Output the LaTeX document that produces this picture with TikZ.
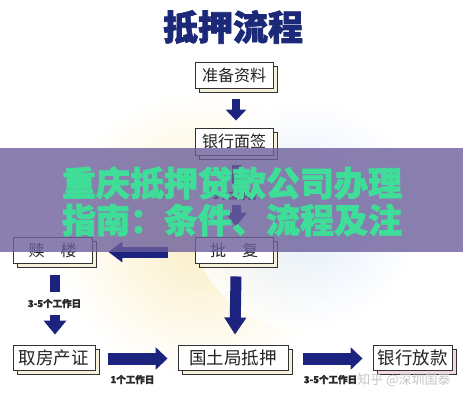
\documentclass[tikz,border=0pt]{standalone}
\usepackage{fontspec}
\usetikzlibrary{arrows.meta,shadows,calc}
\newfontfamily\cjk{Noto Sans CJK SC}[BoldFeatures={FakeBold=2}]
\newfontfamily\cjkn{Noto Sans CJK SC}
\definecolor{navy}{RGB}{27,35,126}
\definecolor{titlec}{RGB}{28,40,120}
\definecolor{boxline}{RGB}{50,50,50}
\definecolor{boxtext}{RGB}{34,34,34}
\definecolor{shadowfill}{RGB}{245,241,218}
\definecolor{pinkshadow}{RGB}{240,218,222}
\definecolor{glowy}{RGB}{251,238,196}
\definecolor{glowb}{RGB}{218,233,250}
\definecolor{bannerc}{RGB}{109,96,156}
\definecolor{bannertext}{RGB}{62,222,152}
\definecolor{labelc}{RGB}{40,40,40}
\tikzset{
  box/.style={draw=boxline, line width=0.9pt, fill=white, minimum width=78pt,
    minimum height=26pt, inner sep=0pt, text=boxtext,
    font=\cjkn\fontsize{16}{16}\selectfont,
    copy shadow={shadow xshift=4pt, shadow yshift=-4pt, fill=shadowfill, draw=boxline, line width=0.9pt}},
  bigbox/.style={box, minimum height=25pt, font=\cjkn\fontsize{17.5}{17.5}\selectfont},
  shaft/.style={draw=navy, line width=#1},
  barrow/.style={draw=navy, fill=navy, line width=#1},
  lbl/.style={text=labelc, font=\cjk\bfseries\fontsize{9.5}{9.5}\selectfont, inner sep=0pt},
}
\begin{document}
\begin{tikzpicture}[x=1pt,y=-1pt]
\useasboundingbox (0,0) rectangle (463,400);
\fill[white] (0,0) rectangle (463,400);
% background glow
\shade[inner color=glowy, outer color=white] (200,235) circle (145);
\shade[inner color=glowb, outer color=white, opacity=0.75] (305,215) circle (115);

% title
\node[text=titlec, font=\cjk\bfseries\fontsize{35}{35}\selectfont, inner sep=0pt] (title) at (233,27) {抵押流程};

% boxes
\node[box] (zbzl) at (234,75) {准备资料};
\node[box, minimum height=27pt] (yhmq) at (234,141.5) {银行面签};
\node[box] (pf) at (234,250) {批\quad 复};
\node[box, minimum width=79pt] (sl) at (52.5,250) {赎\quad 楼};
\node[bigbox, minimum width=82pt] (qfcz) at (54,357.5) {取房产证};
\node[bigbox, minimum width=110pt] (gtj) at (233,357.5) {国土局抵押};
\node[bigbox, minimum width=79pt, copy shadow={shadow xshift=4pt, shadow yshift=-4pt, fill=pinkshadow, draw=boxline, line width=0.9pt}] (yhfk) at (412.5,357.5) {银行放款};

% arrows
\draw[barrow=8pt, -{Triangle[width=20pt,length=11pt]}] ($(zbzl.south)+(2,11)$) -- ($(yhmq.north)+(2,-7)$);

\draw[shaft=9pt] ($(yhmq.south)+(2,10)$) -- ($(yhmq.south)+(2,30)$) coordinate (m1);
\node[lbl] (l0) at ($(yhmq.south)+(1,40)$) {5个工作日};
\draw[barrow=9pt, -{Triangle[width=21pt,length=14pt]}] ($(pf.north)+(2,-32)$) -- ($(pf.north)+(2,-10)$);

\draw[barrow=11pt, -{Triangle[width=21pt,length=17pt]}] ($(pf.south)+(2,13)$) -- ($(gtj.north)+(2,-10)$);

\draw[barrow=11pt, -{Triangle[width=20pt,length=14pt]}] ($(pf.west)+(-27,2)$) -- ($(sl.east)+(16,2)$);

\draw[shaft=10pt] ($(sl.south)+(2,12)$) -- ($(sl.south)+(2,29)$);
\node[lbl] (l1) at ($(sl.south)+(2,40)$) {3-5个工作日};
\draw[barrow=10pt, -{Triangle[width=22pt,length=14pt]}] ($(qfcz.north)+(1,-30)$) -- ($(qfcz.north)+(1,-10)$);

\draw[barrow=12pt, -{Triangle[width=22pt,length=12pt]}] ($(qfcz.east)+(13,1)$) -- ($(gtj.west)+(-10,1)$);
\node[lbl] (l2) at ($(qfcz.east)+(37,22)$) {1个工作日};

\draw[barrow=12pt, -{Triangle[width=22pt,length=12pt]}] ($(gtj.east)+(15,1)$) -- ($(yhfk.west)+(-10,1)$);
\node[lbl] (l3) at ($(gtj.east)+(42,22)$) {3-5个工作日};

% banner
\fill[bannerc, fill opacity=0.8] (0,148) rectangle (463,252);
\node[text=bannertext, font=\cjk\bfseries\fontsize{34}{34}\selectfont, inner sep=0pt] (b1) at (232,183) {重庆抵押贷款公司办理};
\node[text=bannertext, font=\cjk\bfseries\fontsize{34}{34}\selectfont, inner sep=0pt] (b2) at (232,220) {指南：条件、流程及注};

% watermark
\node[text=gray!45, font=\cjkn\fontsize{13}{13}\selectfont, inner sep=0pt] (wm) at (404,380) {知乎 @深圳国泰};
\end{tikzpicture}
\end{document}
